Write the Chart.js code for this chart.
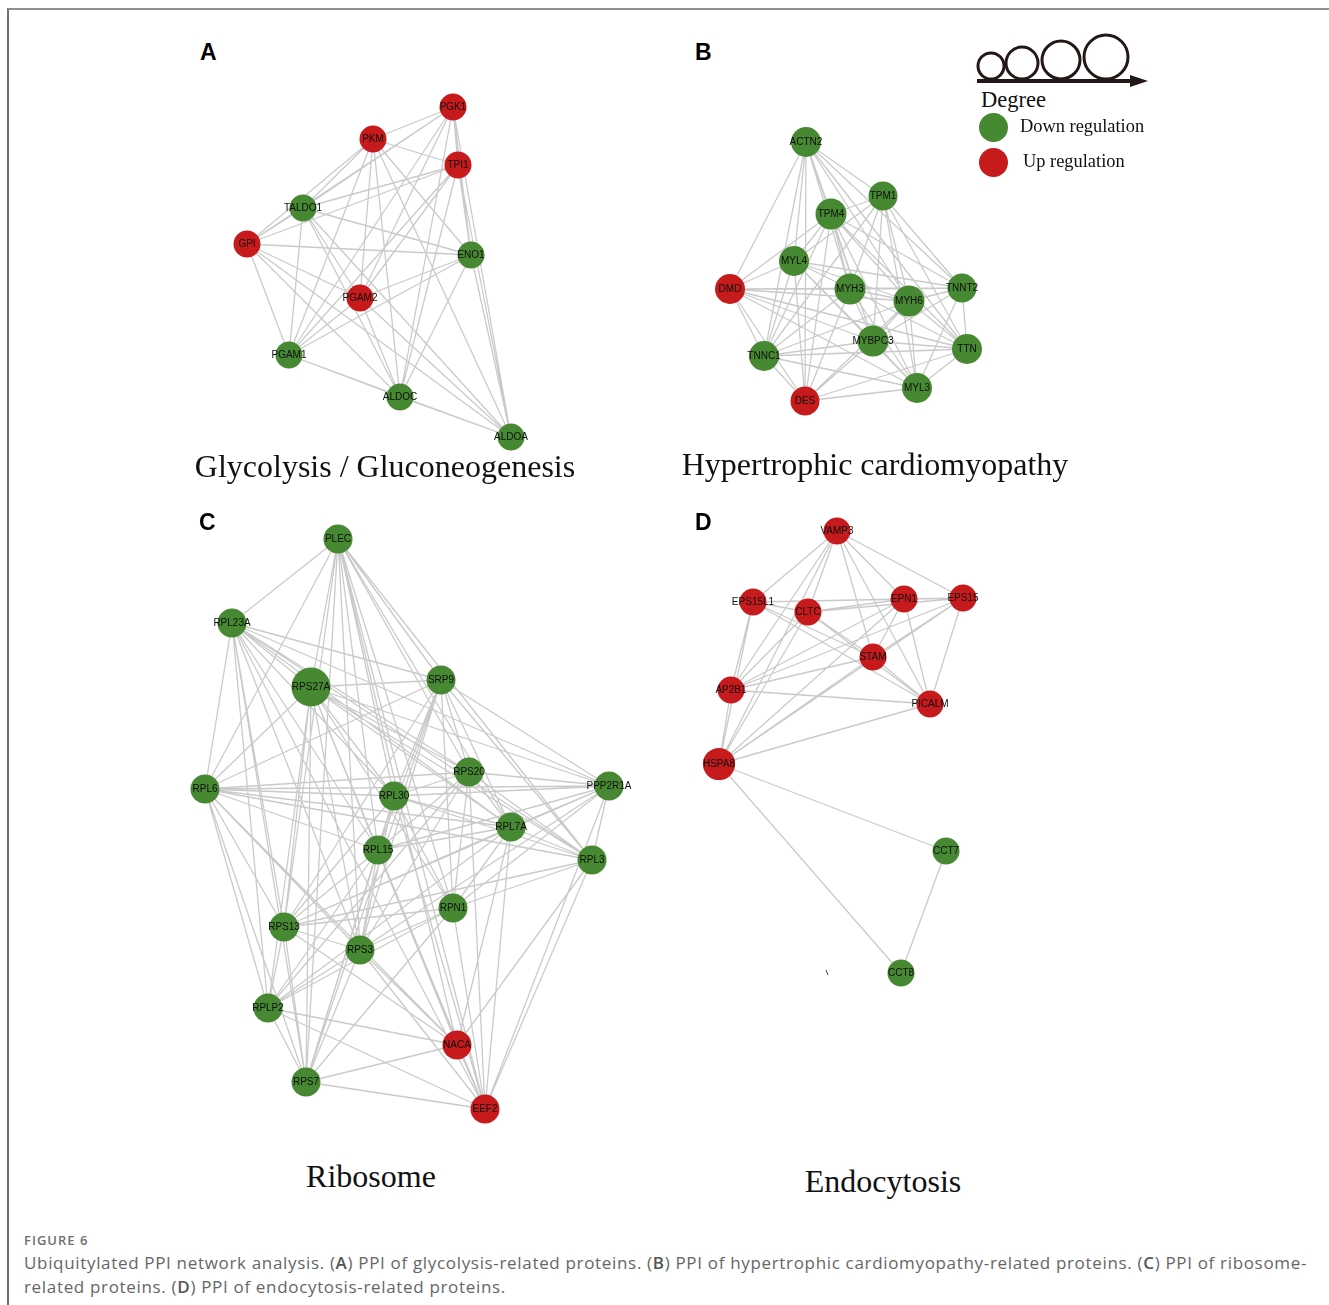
<!DOCTYPE html>
<html>
<head>
<meta charset="utf-8">
<script src="https://cdn.jsdelivr.net/npm/chart.js@4.4.1/dist/chart.umd.min.js"></script>
<style>
  html, body { margin: 0; padding: 0; background: #fff; }
  body { width: 1329px; height: 1305px; position: relative; overflow: hidden; }
  .frame { position: absolute; left: 7px; top: 8px; right: -2px; bottom: -2px;
           border-top: 2px solid #8f8f8f; border-left: 2px solid #707070; }
  canvas { position: absolute; }
  .title { position: absolute; font-family: "Liberation Serif", "DejaVu Serif", serif;
           font-size: 32px; line-height: 32px; color: #111; white-space: nowrap;
           transform: translateX(-50%); }
  .tag { position: absolute; font-family: "Liberation Sans", Arial, sans-serif;
         font-weight: bold; font-size: 23px; line-height: 23px; color: #000; }
  .lg { position: absolute; font-family: "Liberation Serif", "DejaVu Serif", serif;
        color: #111; white-space: nowrap; }
  .dot { position: absolute; width: 29px; height: 29px; border-radius: 50%; }
  .figno { position: absolute; left: 24px; top: 1234px; font-family: "Open Sans", sans-serif;
           font-size: 13px; line-height: 13px; letter-spacing: 1px; font-weight: 600; color: #6f6f6f; }
  .cap { position: absolute; left: 24px; top: 1251px; width: 1300px; font-family: "Open Sans", sans-serif;
         font-size: 17px; line-height: 24px; letter-spacing: 0.67px; color: #666; white-space: nowrap; }
  .cap b { font-weight: 600; color: #555; }
</style>
</head>
<body>
<div class="frame"></div>

<canvas id="netA" width="380" height="380" style="left:180px;top:80px"></canvas>
<canvas id="netB" width="310" height="305" style="left:690px;top:115px"></canvas>
<canvas id="netC" width="470" height="620" style="left:170px;top:515px"></canvas>
<canvas id="netD" width="300" height="490" style="left:690px;top:510px"></canvas>

<div class="tag" style="left:200px;top:41px">A</div>
<div class="tag" style="left:695px;top:41px">B</div>
<div class="tag" style="left:199px;top:511px">C</div>
<div class="tag" style="left:695px;top:511px">D</div>

<div class="title" style="left:385px;top:450px">Glycolysis / Gluconeogenesis</div>
<div class="title" style="left:875px;top:448px">Hypertrophic cardiomyopathy</div>
<div class="title" style="left:371px;top:1160px">Ribosome</div>
<div class="title" style="left:883px;top:1165px">Endocytosis</div>

<!-- degree / regulation key -->
<svg style="position:absolute;left:960px;top:20px" width="200" height="80" viewBox="960 20 200 80">
  <g fill="none" stroke="#231815" stroke-width="3">
    <circle cx="991" cy="66" r="13"/>
    <circle cx="1022" cy="63" r="16"/>
    <circle cx="1061" cy="60" r="19"/>
    <circle cx="1106" cy="57" r="22"/>
  </g>
  <line x1="977" y1="81" x2="1134" y2="81" stroke="#231815" stroke-width="4"/>
  <polygon points="1130,75 1148,81 1130,87" fill="#231815"/>
</svg>
<div class="lg" style="left:981px;top:89px;font-size:22.5px;line-height:22.5px">Degree</div>
<div class="dot" style="left:979px;top:113px;background:#478832"></div>
<div class="dot" style="left:979px;top:148px;background:#c61a1c"></div>
<div class="lg" style="left:1020px;top:117px;font-size:18.4px;line-height:18.4px">Down regulation</div>
<div class="lg" style="left:1023px;top:152px;font-size:18.4px;line-height:18.4px">Up regulation</div>

<!-- small stray stroke below the endocytosis network -->
<svg style="position:absolute;left:822px;top:966px" width="10" height="14">
  <line x1="4" y1="4" x2="6" y2="9" stroke="#444" stroke-width="1"/>
</svg>

<div class="figno">FIGURE 6</div>
<div class="cap">Ubiquitylated PPI network analysis. (<b>A</b>) PPI of glycolysis-related proteins. (<b>B</b>) PPI of hypertrophic cardiomyopathy-related proteins. (<b>C</b>) PPI of ribosome-<br>related proteins. (<b>D</b>) PPI of endocytosis-related proteins.</div>

<script>
// ---------- Glycolysis / Gluconeogenesis ----------
const glyNames = ['PGK1', 'PKM', 'TPI1', 'TALDO1', 'GPI', 'ENO1', 'PGAM2', 'PGAM1', 'ALDOC', 'ALDOA'];
const glyX     = [273, 193, 278, 123, 67, 291, 180, 109, 220, 331];
const glyY     = [27, 59, 85, 128, 164, 175, 218, 275, 317, 357];
const glyUp    = [1, 1, 1, 0, 1, 0, 1, 0, 0, 0];
const glyLinks = [
  ['PGK1',   'PKM TPI1 TALDO1 GPI ENO1 PGAM2 PGAM1 ALDOC ALDOA'],
  ['PKM',    'TPI1 TALDO1 GPI ENO1 PGAM2 PGAM1 ALDOC ALDOA'],
  ['TPI1',   'TALDO1 GPI ENO1 PGAM2 PGAM1 ALDOC ALDOA'],
  ['TALDO1', 'GPI ENO1 PGAM2 PGAM1 ALDOC ALDOA'],
  ['GPI',    'ENO1 PGAM2 PGAM1 ALDOC ALDOA'],
  ['ENO1',   'PGAM2 PGAM1 ALDOC ALDOA'],
  ['PGAM2',  'PGAM1 ALDOC ALDOA'],
  ['PGAM1',  'ALDOC ALDOA'],
  ['ALDOC',  'ALDOA']
];

// ---------- Hypertrophic cardiomyopathy ----------
const hcmNames = ['ACTN2', 'TPM1', 'TPM4', 'MYL4', 'DMD', 'MYH3', 'TNNT2', 'MYH6', 'MYBPC3', 'TNNC1', 'TTN', 'MYL3', 'DES'];
const hcmX     = [116, 193, 141, 104, 40, 160, 272, 219, 183, 74, 277, 227, 115];
const hcmY     = [27, 81, 99, 146, 174, 174, 173, 186, 226, 241, 234, 273, 286];
const hcmUp    = [0, 0, 0, 0, 1, 0, 0, 0, 0, 0, 0, 0, 1];
const hcmLinks = [
  ['ACTN2',  'TPM1 TPM4 MYL4 DMD MYH3 TNNT2 MYH6 MYBPC3 TNNC1 TTN DES'],
  ['TPM1',   'TPM4 MYL4 MYH3 TNNT2 MYH6 MYBPC3 TNNC1 TTN MYL3'],
  ['TPM4',   'MYL4 DMD MYH3 TNNT2 MYH6 MYBPC3 TNNC1 TTN MYL3 DES'],
  ['MYL4',   'DMD MYH3 TNNT2 MYH6 MYBPC3 TNNC1 MYL3 DES'],
  ['DMD',    'MYH3 TNNT2 MYH6 MYBPC3 TNNC1 TTN MYL3 DES'],
  ['MYH3',   'TNNT2 MYH6 MYBPC3 TNNC1 TTN MYL3 DES'],
  ['TNNT2',  'MYH6 MYBPC3 TTN MYL3'],
  ['MYH6',   'MYBPC3 TNNC1 TTN MYL3 DES'],
  ['MYBPC3', 'TNNC1 TTN MYL3 DES'],
  ['TNNC1',  'TTN MYL3 DES'],
  ['TTN',    'MYL3 DES'],
  ['MYL3',   'DES']
];

// ---------- Ribosome ----------
const riboNames = ['PLEC', 'RPL23A', 'RPS27A', 'SRP9', 'RPL6', 'RPS20', 'RPL30', 'PPP2R1A', 'RPL7A',
                   'RPL15', 'RPL3', 'RPN1', 'RPS13', 'RPS3', 'RPLP2', 'NACA', 'RPS7', 'EEF2'];
const riboX     = [168, 62, 141, 271, 35, 299, 224, 439, 341, 208, 422, 283, 114, 190, 98, 287, 136, 315];
const riboY     = [24, 108, 172, 165, 274, 257, 281, 271, 312, 335, 345, 393, 412, 435, 493, 530, 567, 594];
const riboUp    = [0, 0, 0, 0, 0, 0, 0, 0, 0, 0, 0, 0, 0, 0, 0, 1, 0, 1];
const riboLinks = [
  ['PLEC',    'RPL23A RPS27A SRP9 RPL6 RPS20 RPL30 RPL7A RPL15 RPL3 RPN1 RPS13 RPS3 NACA RPS7 EEF2'],
  ['RPL23A',  'RPS27A SRP9 RPL6 RPS20 RPL30 PPP2R1A RPL7A RPL15 RPL3 RPS13 RPS3 RPLP2 RPS7 EEF2'],
  ['RPS27A',  'SRP9 RPL6 RPS20 RPL30 PPP2R1A RPL7A RPL15 RPL3 RPN1 RPS13 RPS3 RPLP2 NACA RPS7 EEF2'],
  ['SRP9',    'RPL6 RPS20 RPL30 PPP2R1A RPL7A RPL15 RPL3 RPN1 RPS13 RPS3 RPS7'],
  ['RPL6',    'RPS20 RPL30 PPP2R1A RPL7A RPL15 RPL3 RPS13 RPS3 RPLP2 NACA RPS7'],
  ['RPS20',   'RPL30 PPP2R1A RPL7A RPL15 RPL3 RPN1 RPS3 RPLP2 EEF2'],
  ['RPL30',   'PPP2R1A RPL7A RPL15 RPL3 RPN1 RPS13 RPS3 RPS7 EEF2'],
  ['PPP2R1A', 'RPL7A RPL15 RPL3 RPN1 RPS13 RPS3 EEF2'],
  ['RPL7A',   'RPL15 RPL3 RPN1 RPS13 RPLP2 NACA EEF2'],
  ['RPL15',   'RPS13 RPS3 RPLP2 NACA RPS7 EEF2'],
  ['RPL3',    'RPN1 RPS13 NACA EEF2'],
  ['RPN1',    'RPS13 RPS3 RPLP2 RPS7 EEF2'],
  ['RPS13',   'RPS3 RPLP2 NACA RPS7'],
  ['RPS3',    'RPLP2 NACA RPS7 EEF2'],
  ['RPLP2',   'NACA RPS7 EEF2'],
  ['NACA',    'RPS7 EEF2'],
  ['RPS7',    'EEF2']
];

// ---------- Endocytosis ----------
const endoNames = ['VAMP3', 'EPS15L1', 'CLTC', 'EPN1', 'EPS15', 'STAM', 'AP2B1', 'PICALM', 'HSPA8', 'CCT7', 'CCT8'];
const endoX     = [147, 63, 118, 214, 273, 183, 41, 240, 29, 256, 211];
const endoY     = [21, 92, 102, 89, 88, 147, 180, 194, 254, 341, 463];
const endoUp    = [1, 1, 1, 1, 1, 1, 1, 1, 1, 0, 0];
const endoLinks = [
  ['VAMP3',   'EPS15L1 CLTC EPN1 EPS15 STAM PICALM AP2B1 HSPA8'],
  ['EPS15L1', 'CLTC EPN1 EPS15 STAM PICALM AP2B1 HSPA8'],
  ['CLTC',    'EPN1 EPS15 STAM PICALM AP2B1 HSPA8'],
  ['EPN1',    'EPS15 STAM PICALM AP2B1 HSPA8'],
  ['EPS15',   'STAM PICALM AP2B1 HSPA8'],
  ['STAM',    'PICALM AP2B1 HSPA8'],
  ['AP2B1',   'PICALM HSPA8'],
  ['PICALM',  'HSPA8'],
  ['HSPA8',   'CCT7 CCT8'],
  ['CCT7',    'CCT8']
];

// ---------- drawing ----------
const GREEN = '#478832';
const RED = '#c61a1c';
const EDGE = 'rgba(135,135,135,0.44)';

// writes each node's name centred on its circle
const nodeLabels = {
  id: 'nodeLabels',
  afterDatasetsDraw(chart) {
    const ctx = chart.ctx;
    const meta = chart.getDatasetMeta(0);
    const names = chart.data.datasets[0].names;
    ctx.save();
    ctx.font = '10px "Liberation Sans", Arial, sans-serif';
    ctx.fillStyle = '#0e0e0e';
    ctx.textAlign = 'center';
    ctx.textBaseline = 'middle';
    meta.data.forEach((pt, i) => ctx.fillText(names[i], pt.x, pt.y + 0.5));
    ctx.restore();
  }
};

// node radius grows with degree above a per-panel floor
function network(canvasId, names, xs, ys, up, links, size) {
  const canvas = document.getElementById(canvasId);
  const index = {};
  names.forEach((n, i) => { index[n] = i; });
  const degree = names.map(() => 0);
  const edgeData = [];
  links.forEach(([src, targets]) => {
    targets.split(' ').forEach(t => {
      const a = index[src], b = index[t];
      degree[a]++; degree[b]++;
      edgeData.push({ x: xs[a], y: ys[a] }, { x: xs[b], y: ys[b] }, { x: null, y: null });
    });
  });
  const radii = degree.map(d => size.base + size.step * Math.max(0, d - size.floor));
  const colors = up.map(u => (u ? RED : GREEN));

  new Chart(canvas, {
    type: 'scatter',
    data: {
      datasets: [
        {
          label: 'proteins',
          names: names,
          data: names.map((n, i) => ({ x: xs[i], y: ys[i] })),
          pointRadius: radii,
          pointHoverRadius: radii,
          backgroundColor: colors,
          borderColor: colors,
          borderWidth: 0,
          clip: false,
          order: 0
        },
        {
          label: 'interactions',
          data: edgeData,
          showLine: true,
          spanGaps: false,
          pointRadius: 0,
          pointHoverRadius: 0,
          borderColor: EDGE,
          borderWidth: 1.3,
          clip: false,
          order: 1
        }
      ]
    },
    options: {
      responsive: false,
      animation: false,
      events: [],
      layout: { padding: 0, autoPadding: false },
      plugins: { legend: { display: false }, tooltip: { enabled: false } },
      scales: {
        x: { type: 'linear', display: false, min: 0, max: canvas.width },
        y: { type: 'linear', display: false, min: 0, max: canvas.height, reverse: true }
      }
    },
    plugins: [nodeLabels]
  });
}

network('netA', glyNames, glyX, glyY, glyUp, glyLinks, { base: 13.5, step: 0, floor: 9 });
network('netB', hcmNames, hcmX, hcmY, hcmUp, hcmLinks, { base: 14.5, step: 0.5, floor: 10 });
network('netC', riboNames, riboX, riboY, riboUp, riboLinks, { base: 14.5, step: 2.5, floor: 15 });
network('netD', endoNames, endoX, endoY, endoUp, endoLinks, { base: 13.5, step: 1.3, floor: 8 });
</script>
</body>
</html>
